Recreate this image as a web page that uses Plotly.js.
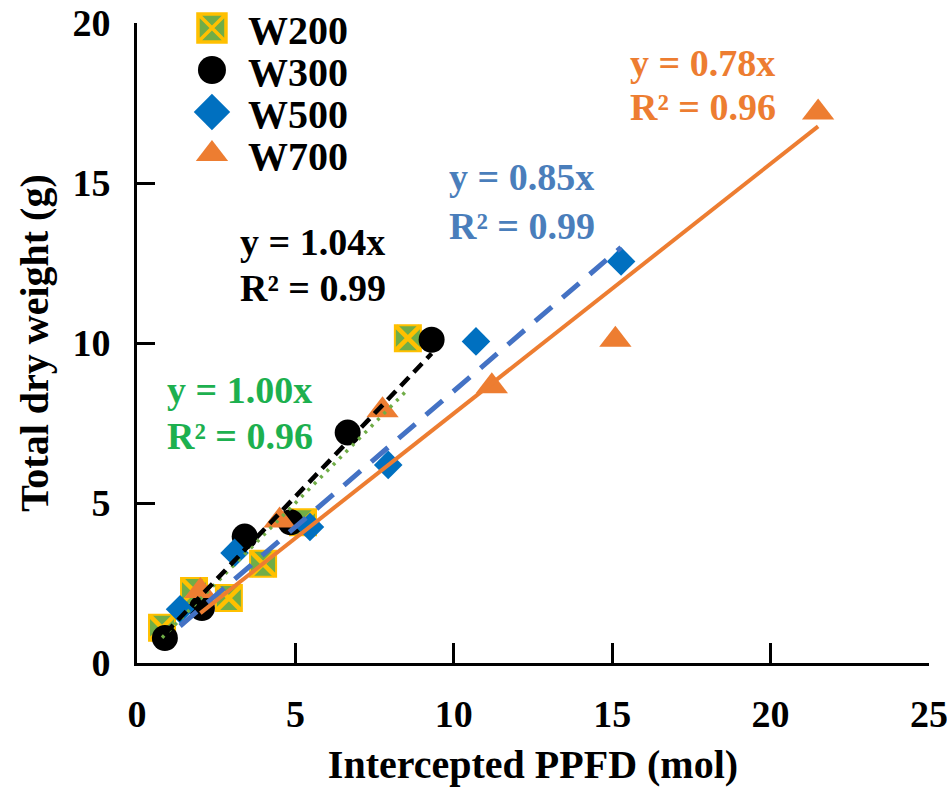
<!DOCTYPE html>
<html>
<head>
<meta charset="utf-8">
<script src="https://cdn.plot.ly/plotly-3.0.1.min.js"></script>
<style>html,body{margin:0;padding:0;background:#fff;} #chart{width:947px;height:787px;}</style>
</head>
<body>
<div id="chart"></div>
<script>
// ---- data ----
const seriesNames = ["W200", "W300", "W500", "W700"];
const W200_x = [0.79, 1.80, 2.90, 3.98, 5.24, 8.55];
const W200_y = [1.10, 2.25, 2.03, 3.10, 4.40, 10.15];
const W300_x = [0.88, 2.05, 3.40, 4.85, 6.65, 9.30];
const W300_y = [0.78, 1.72, 3.95, 4.40, 7.20, 10.10];
const W500_x = [1.36, 3.08, 5.46, 7.93, 10.70, 15.28];
const W500_y = [1.68, 3.44, 4.25, 6.19, 10.05, 12.55];
const W700_x = [2.00, 4.50, 7.75, 11.20, 15.10, 21.50];
const W700_y = [2.25, 4.45, 7.90, 8.65, 10.10, 17.20];
const slopes = [1.00, 1.04, 0.85, 0.78];
const r2 = [0.96, 0.99, 0.99, 0.96];
const xTicks = [0, 5, 10, 15, 20, 25];
const yTicks = [0, 5, 10, 15, 20];

const FONT = "'Liberation Serif', 'Times New Roman', serif";
const xs = [W200_x, W300_x, W500_x, W700_x];
const ys = [W200_y, W300_y, W500_y, W700_y];

const markerStyles = [
  {symbol: 'square-x', size: 26, color: '#70AD47', line: {color: '#FFC000', width: 2}},
  {symbol: 'circle', size: 26, color: '#000000', line: {width: 0}},
  {symbol: 'diamond', size: 22, color: '#0070C0', line: {width: 0}},
  {symbol: 'triangle-up', size: 28, color: '#ED7D31', line: {width: 0}}
];
const lineStyles = [
  {color: '#70AD47', width: 3.5, dash: '3px,6px'},
  {color: '#000000', width: 4.5, dash: '12px,7px'},
  {color: '#4472C4', width: 5, dash: '22px,14px'},
  {color: '#ED7D31', width: 4, dash: 'solid'}
];
const textColors = ['#1DB04F', '#000000', '#4A7EBB', '#ED7D31'];
// annotation anchor (left edge, line1 y, line2 y) in data units
const annPos = [
  [0.88, 8.53, 7.09],
  [3.19, 13.17, 11.72],
  [9.79, 15.19, 13.67],
  [15.50, 18.75, 17.37]
];

const traces = [];
for (let i = 0; i < 4; i++) {
  traces.push({
    type: 'scatter', mode: 'markers', name: seriesNames[i],
    x: xs[i], y: ys[i], cliponaxis: false,
    marker: markerStyles[i]
  });
  if (i === 0) {
    // thick yellow cross over the green squares
    traces.push({
      type: 'scatter', mode: 'markers', showlegend: false,
      x: xs[0], y: ys[0], cliponaxis: false, hoverinfo: 'skip',
      marker: {symbol: 'x-thin-open', size: 24, color: '#FFC000', line: {color: '#FFC000', width: 4.5}}
    });
  }
}
for (let i = 0; i < 4; i++) {
  const lo = Math.min(...xs[i]), hi = Math.max(...xs[i]);
  traces.push({
    type: 'scatter', mode: 'lines', showlegend: false,
    x: [lo, hi], y: [slopes[i] * lo, slopes[i] * hi],
    line: lineStyles[i], hoverinfo: 'skip'
  });
}

const annotations = [];
for (let i = 0; i < 4; i++) {
  annotations.push({x: annPos[i][0], y: annPos[i][1], xref: 'x', yref: 'y', xanchor: 'left', yanchor: 'middle',
    text: 'y = ' + slopes[i].toFixed(2) + 'x', showarrow: false,
    font: {family: FONT, size: 38, weight: 'bold', color: textColors[i]}});
  annotations.push({x: annPos[i][0], y: annPos[i][2], xref: 'x', yref: 'y', xanchor: 'left', yanchor: 'middle',
    text: 'R² = ' + r2[i].toFixed(2), showarrow: false,
    font: {family: FONT, size: 38, weight: 'bold', color: textColors[i]}});
}

const layout = {
  width: 947, height: 787,
  margin: {l: 137, r: 18, t: 23, b: 124, autoexpand: false},
  paper_bgcolor: '#ffffff', plot_bgcolor: '#ffffff',
  font: {family: FONT, size: 38, weight: 'bold', color: '#000'},
  showlegend: true,
  legend: {x: 0.0694, y: 1.0297, xanchor: 'left', yanchor: 'top', bgcolor: 'rgba(0,0,0,0)',
    font: {family: FONT, size: 40, weight: 'bold', color: '#000'}},
  xaxis: {
    range: [0, 25], tickvals: xTicks, ticktext: xTicks.map(String),
    showgrid: false, zeroline: false, showline: true, linecolor: '#000', linewidth: 3,
    ticks: 'inside', ticklen: 20, tickwidth: 3, tickcolor: '#000',
    ticklabelstandoff: 15, ticklabeloverflow: 'allow',
    tickfont: {family: FONT, size: 38, weight: 'bold', color: '#000'},
    title: {text: 'Intercepted PPFD (mol)', standoff: 22, font: {family: FONT, size: 40, weight: 'bold', color: '#000'}}
  },
  yaxis: {
    range: [0, 20], tickvals: yTicks, ticktext: yTicks.map(String),
    showgrid: false, zeroline: false, showline: true, linecolor: '#000', linewidth: 3,
    ticks: 'inside', ticklen: 18, tickwidth: 3, tickcolor: '#000',
    ticklabelstandoff: 16, ticklabeloverflow: 'allow',
    tickfont: {family: FONT, size: 38, weight: 'bold', color: '#000'},
    title: {text: 'Total dry weight (g)', standoff: 12, font: {family: FONT, size: 40, weight: 'bold', color: '#000'}}
  },
  annotations: annotations
};

Plotly.newPlot('chart', traces, layout, {staticPlot: true, displayModeBar: false}).then(function (gd) {
  const sb = gd.querySelector('.legend .scrollbox');
  if (sb) sb.removeAttribute('clip-path');
  const items = gd.querySelectorAll('.legend .traces');
  items.forEach(function (g, i) {
    g.setAttribute('transform', 'translate(0,' + (24 + i * 42) + ')');
    const pts = g.querySelector('.legendpoints');
    if (pts) pts.setAttribute('transform', 'translate(20,0) scale(1.75) translate(-20,0)');
    const t = g.querySelector('.legendtext');
    if (t) t.setAttribute('x', 56);
  });
});
</script>
</body>
</html>
